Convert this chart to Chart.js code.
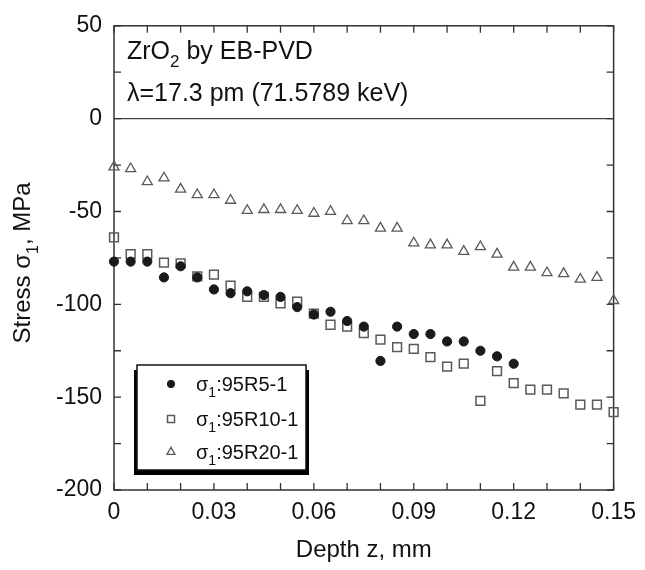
<!DOCTYPE html>
<html><head><meta charset="utf-8">
<script src="https://cdn.jsdelivr.net/npm/chart.js@4"></script>
<style>html,body{margin:0;padding:0;background:#fff}#wrap{width:645px;height:570px}</style>
</head><body><div id="wrap"><canvas id="c" width="645" height="570"></canvas></div>
<script>
// ---- data ----
const DEPTH = [0,0.005,0.01,0.015,0.02,0.025,0.03,0.035,0.04,0.045,0.05,0.055,0.06,0.065,0.07,0.075,0.08,0.085,0.09,0.095,0.1,0.105,0.11,0.115,0.12,0.125,0.13,0.135,0.14,0.145,0.15];
const R5  = [-77,-77,-77,-85.5,-79.5,-85.5,-92,-94,-93,-95,-96,-101.5,-105.5,-104,-109,-112,-130.5,-112,-116,-116,-120,-120,-125,-128,-132];
const R10 = [-64,-73,-73,-77.5,-78,-85,-84,-90,-96,-96,-99.5,-98.5,-105,-111,-112,-115.5,-119,-123,-124,-128.5,-133.5,-132,-152,-136,-142.5,-146,-146,-148,-154,-154,-158];
const R20 = [-26,-27,-34,-32,-38,-41,-41,-44,-49.5,-49,-49,-49.5,-51,-50,-55,-55,-59,-59,-67,-68,-68,-71.5,-69,-73,-80,-80,-83,-83.5,-86.5,-85.5,-98];
const SERIES = ['95R5-1','95R10-1','95R20-1'];
const X_TICKS = [0,0.03,0.06,0.09,0.12,0.15];
const Y_TICKS = [50,0,-50,-100,-150,-200];
const X_MINOR = [0,0.01,0.02,0.03,0.04,0.05,0.06,0.07,0.08,0.09,0.1,0.11,0.12,0.13,0.14,0.15];
const Y_MINOR = [50,25,0,-25,-50,-75,-100,-125,-150,-175,-200];
const X_TITLE = 'Depth z, mm';
const Y_TITLE = [['Stress σ',false],['1',true],[', MPa',false]];
const NOTE1 = [['ZrO',false],['2',true],[' by EB-PVD',false]];
const NOTE2 = [['λ=17.3 pm (71.5789 keV)',false]];

const FONT = "'Liberation Sans', Arial, Helvetica, sans-serif";

function pts(xs, ys){ return ys.map((y,i)=>({x:xs[i], y:y})); }

function richWidth(ctx, parts, size){
  let w=0;
  for(const [t,sub] of parts){ ctx.font = (sub? Math.round(size*0.68):size)+'px '+FONT; w+=ctx.measureText(t).width; }
  return w;
}
function drawRich(ctx, parts, x, y, size){
  let cx=x;
  ctx.textAlign='left'; ctx.textBaseline='alphabetic';
  for(const [t,sub] of parts){
    ctx.font = (sub? Math.round(size*0.68):size)+'px '+FONT;
    ctx.fillText(t, cx, sub? y+size*0.32 : y);
    cx += ctx.measureText(t).width;
  }
}

const framePlugin = {
  id:'frame',
  beforeDatasetsDraw(chart){
    const {ctx, chartArea:a, scales:{x,y}} = chart;
    ctx.save();
    const y0 = y.getPixelForValue(0);
    ctx.strokeStyle='#444'; ctx.lineWidth=1.3;
    ctx.beginPath(); ctx.moveTo(a.left,y0); ctx.lineTo(a.right,y0); ctx.stroke();
    ctx.strokeStyle='#333'; ctx.lineWidth=1.5;
    ctx.strokeRect(a.left,a.top,a.right-a.left,a.bottom-a.top);
    ctx.lineWidth=1.3;
    const L=7;
    ctx.beginPath();
    for(const v of X_MINOR){
      const px=x.getPixelForValue(v);
      ctx.moveTo(px,a.bottom); ctx.lineTo(px,a.bottom-L);
      ctx.moveTo(px,a.top); ctx.lineTo(px,a.top+L);
    }
    for(const v of Y_MINOR){
      const py=y.getPixelForValue(v);
      ctx.moveTo(a.left,py); ctx.lineTo(a.left+L,py);
      ctx.moveTo(a.right,py); ctx.lineTo(a.right-L,py);
    }
    ctx.stroke();
    ctx.restore();
  },
  afterDraw(chart){
    const {ctx, chartArea:a} = chart;
    ctx.save();
    ctx.fillStyle='#111';
    drawRich(ctx, NOTE1, a.left+13, 59, 25);
    drawRich(ctx, NOTE2, a.left+13, 101, 25);
    ctx.font='24px '+FONT; ctx.textAlign='center'; ctx.textBaseline='alphabetic';
    ctx.fillText(X_TITLE, (a.left+a.right)/2, 557);
    ctx.save();
    ctx.translate(22, (a.top+a.bottom)/2 + 5);
    ctx.rotate(-Math.PI/2);
    const w = richWidth(ctx, Y_TITLE, 24);
    drawRich(ctx, Y_TITLE, -w/2, 8, 24);
    ctx.restore();
    // legend box
    const bx=137, by=365, bw=169, bh=105;
    ctx.fillStyle='#000';
    ctx.fillRect(bx-3, by+5, bw+6, bh);
    ctx.fillStyle='#fff';
    ctx.fillRect(bx, by, bw, bh);
    ctx.strokeStyle='#111'; ctx.lineWidth=1.5;
    ctx.strokeRect(bx, by, bw, bh);
    const ds = chart.data.datasets;
    const rowsY=[384,419,452];
    for(let i=0;i<ds.length;i++){
      const d=ds[i];
      ctx.fillStyle=d.backgroundColor; ctx.strokeStyle=d.borderColor; ctx.lineWidth=d.borderWidth;
      Chart.helpers.drawPoint(ctx, {pointStyle:d.pointStyle, radius:d.pointRadius*0.8, borderWidth:d.borderWidth, rotation:0}, 171, rowsY[i]);
      ctx.fillStyle='#111';
      drawRich(ctx, [['σ',false],['1',true],[':'+SERIES[i],false]], 196, rowsY[i]+7, 20);
    }
    ctx.restore();
  }
};

new Chart(document.getElementById('c'), {
  type:'scatter',
  data:{ datasets:[
    {label:SERIES[0], data:pts(DEPTH,R5), pointStyle:'circle', pointRadius:4.6, backgroundColor:'#1a1a1a', borderColor:'#1a1a1a', borderWidth:1, clip:false},
    {label:SERIES[1], data:pts(DEPTH,R10), pointStyle:'rect', pointRadius:6.2, backgroundColor:'rgba(255,255,255,0)', borderColor:'#595959', borderWidth:1.5, clip:false},
    {label:SERIES[2], data:pts(DEPTH,R20), pointStyle:'triangle', pointRadius:5.8, backgroundColor:'rgba(255,255,255,0)', borderColor:'#595959', borderWidth:1.3, clip:false}
  ]},
  options:{
    responsive:false, animation:false, events:[],
    layout:{padding:{top:25,right:25,left:0,bottom:0}},
    plugins:{legend:{display:false}, tooltip:{enabled:false}},
    scales:{
      x:{type:'linear', min:0, max:0.15,
        grid:{display:false, drawTicks:false}, border:{display:false},
        afterBuildTicks:s=>{s.ticks=X_TICKS.map(v=>({value:v}));},
        afterFit:s=>{s.height=80;},
        ticks:{padding:9, color:'#111', font:{family:FONT,size:23}, maxRotation:0, autoSkip:false,
          callback:v=> v===0?'0':v.toFixed(2)}},
      y:{type:'linear', min:-200, max:50,
        grid:{display:false, drawTicks:false}, border:{display:false},
        afterBuildTicks:s=>{s.ticks=Y_TICKS.map(v=>({value:v}));},
        afterFit:s=>{s.width=114;},
        ticks:{padding:12, color:'#111', font:{family:FONT,size:23}, autoSkip:false}}
    }
  },
  plugins:[framePlugin]
});
</script></body></html>
